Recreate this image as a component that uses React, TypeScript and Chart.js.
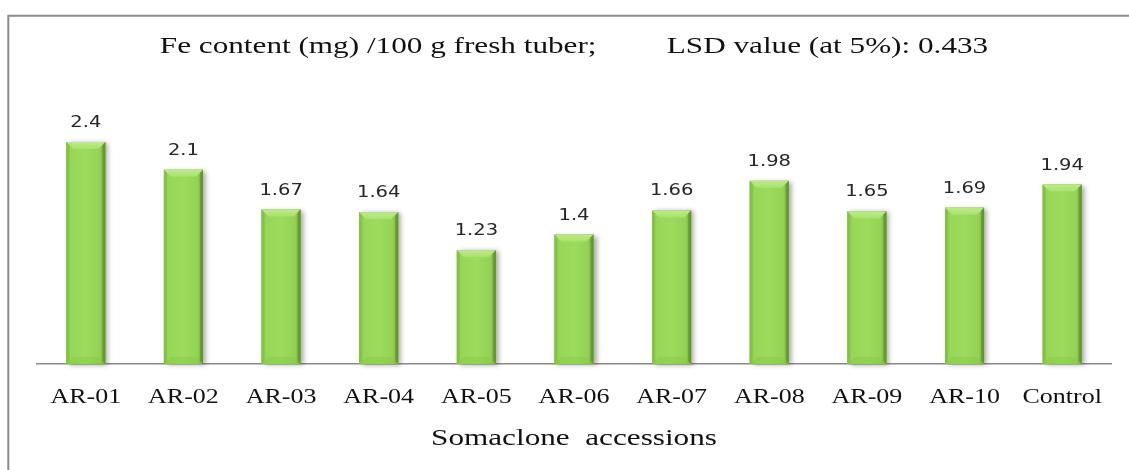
import { useEffect, useRef } from 'react';
import { Chart, registerables } from 'chart.js';

Chart.register(...registerables);

const categories = ['AR-01', 'AR-02', 'AR-03', 'AR-04', 'AR-05', 'AR-06', 'AR-07', 'AR-08', 'AR-09', 'AR-10', 'Control'];
const feValues = [2.4, 2.1, 1.67, 1.64, 1.23, 1.4, 1.66, 1.98, 1.65, 1.69, 1.94];
const valueLabels = ['2.4', '2.1', '1.67', '1.64', '1.23', '1.4', '1.66', '1.98', '1.65', '1.69', '1.94'];
const chartTitle = 'Fe content (mg) /100 g fresh tuber;         LSD value (at 5%): 0.433';
const xAxisTitle = 'Somaclone  accessions';

const SX = 1.3;

function stretchedText(ctx: CanvasRenderingContext2D, text: string, x: number, y: number, font: string, color: string, sx = SX) {
  ctx.save();
  ctx.font = font;
  ctx.fillStyle = color;
  ctx.textAlign = 'center';
  ctx.textBaseline = 'alphabetic';
  ctx.translate(x, y);
  ctx.scale(sx, 1);
  ctx.fillText(text, 0, 0);
  ctx.restore();
}

const decorPlugin = {
  id: 'decor',
  beforeDraw(chart: any) {
    const ctx = chart.ctx as CanvasRenderingContext2D;
    ctx.save();
    ctx.fillStyle = '#ffffff';
    ctx.fillRect(0, 0, chart.width, chart.height);
    ctx.strokeStyle = '#8c8c8c';
    ctx.lineWidth = 2;
    ctx.beginPath();
    ctx.moveTo(8.3, chart.height + 2);
    ctx.lineTo(8.3, 15.7);
    ctx.lineTo(chart.width + 2, 15.7);
    ctx.stroke();
    ctx.restore();
  },
  beforeDatasetsDraw(chart: any) {
    const ctx = chart.ctx as CanvasRenderingContext2D;
    const meta = chart.getDatasetMeta(0);
    meta.data.forEach((el: any) => {
      const { x, y, base, width } = el.getProps(['x', 'y', 'base', 'width'], true);
      ctx.save();
      ctx.shadowColor = 'rgba(0,0,0,0.35)';
      ctx.shadowBlur = 5;
      ctx.shadowOffsetX = 3;
      ctx.shadowOffsetY = 1;
      ctx.fillStyle = '#9ad85a';
      ctx.fillRect(x - width / 2, y, width, base - y);
      ctx.restore();
    });
  },
  afterDatasetsDraw(chart: any) {
    const ctx = chart.ctx as CanvasRenderingContext2D;
    const meta = chart.getDatasetMeta(0);
    meta.data.forEach((el: any, i: number) => {
      const { x, y, base, width } = el.getProps(['x', 'y', 'base', 'width'], true);
      const l = x - width / 2;
      const r = x + width / 2;
      const t = y;
      const b = base;
      const bv = 7;
      ctx.save();
      const g = ctx.createLinearGradient(l, 0, r, 0);
      g.addColorStop(0, '#86c448');
      g.addColorStop(0.12, '#97d757');
      g.addColorStop(0.5, '#9cdb5c');
      g.addColorStop(0.86, '#93d254');
      g.addColorStop(1, '#70a238');
      ctx.fillStyle = g;
      ctx.fillRect(l, t, width, b - t);
      // top bevel
      const tg = ctx.createLinearGradient(0, t, 0, t + bv);
      tg.addColorStop(0, '#bdeb88');
      tg.addColorStop(1, '#a8e26d');
      ctx.fillStyle = tg;
      ctx.beginPath();
      ctx.moveTo(l, t);
      ctx.lineTo(r, t);
      ctx.lineTo(r - bv, t + bv);
      ctx.lineTo(l + bv, t + bv);
      ctx.closePath();
      ctx.fill();
      // left bevel
      ctx.fillStyle = 'rgba(120,180,60,0.35)';
      ctx.beginPath();
      ctx.moveTo(l, t);
      ctx.lineTo(l + 3, t + 3);
      ctx.lineTo(l + 3, b - 3);
      ctx.lineTo(l, b);
      ctx.closePath();
      ctx.fill();
      // right bevel
      ctx.fillStyle = 'rgba(80,125,35,0.45)';
      ctx.beginPath();
      ctx.moveTo(r, t);
      ctx.lineTo(r - 3, t + 3);
      ctx.lineTo(r - 3, b - 3);
      ctx.lineTo(r, b);
      ctx.closePath();
      ctx.fill();
      // bottom bevel (subtle)
      ctx.fillStyle = 'rgba(130,195,70,0.35)';
      ctx.beginPath();
      ctx.moveTo(l, b);
      ctx.lineTo(r, b);
      ctx.lineTo(r - bv, b - bv);
      ctx.lineTo(l + bv, b - bv);
      ctx.closePath();
      ctx.fill();
      ctx.restore();
      stretchedText(ctx, valueLabels[i], x, t - 15, '15px "DejaVu Sans"', '#262626');
    });
  },
  afterDraw(chart: any) {
    const ctx = chart.ctx as CanvasRenderingContext2D;
    const area = chart.chartArea;
    const cx = (area.left + area.right) / 2;
    const xs = chart.scales.x;
    stretchedText(ctx, chartTitle, cx, area.top - 33.5, '24px "Liberation Serif"', '#111111');
    categories.forEach((c, i) => {
      stretchedText(ctx, c, xs.getPixelForValue(i), area.bottom + 38.5, '20px "Liberation Serif"', '#111111');
    });
    stretchedText(ctx, xAxisTitle, cx, area.bottom + 81, '24px "Liberation Serif"', '#111111');
  },
};

export default function App() {
  const canvasRef = useRef<HTMLCanvasElement | null>(null);

  useEffect(() => {
    if (!canvasRef.current) return;
    const chart = new Chart(canvasRef.current, {
      type: 'bar',
      data: {
        labels: categories,
        datasets: [
          {
            label: 'Fe content',
            data: feValues,
            backgroundColor: '#9ad85a',
            borderWidth: 0,
            categoryPercentage: 1,
            barPercentage: 0.4,
          },
        ],
      },
      options: {
        responsive: false,
        animation: false,
        layout: { padding: { top: 86.5, left: 37, right: 18, bottom: 0 } },
        plugins: {
          legend: { display: false },
          tooltip: { enabled: false },
          title: { display: false },
        },
        scales: {
          x: {
            grid: { display: false, drawTicks: false },
            ticks: { display: false },
            border: { display: true, color: '#8a8a8a', width: 1.5 },
            afterFit: (s: any) => {
              s.height = 106;
            },
          },
          y: { display: false, min: 0, max: 3 },
        },
      },
      plugins: [decorPlugin],
    });
    return () => chart.destroy();
  }, []);

  return (
    <div style={{ position: 'absolute', left: 0, top: 0, width: 1129, height: 470 }}>
      <canvas ref={canvasRef} width={1129} height={470} style={{ display: 'block' }} />
    </div>
  );
}
